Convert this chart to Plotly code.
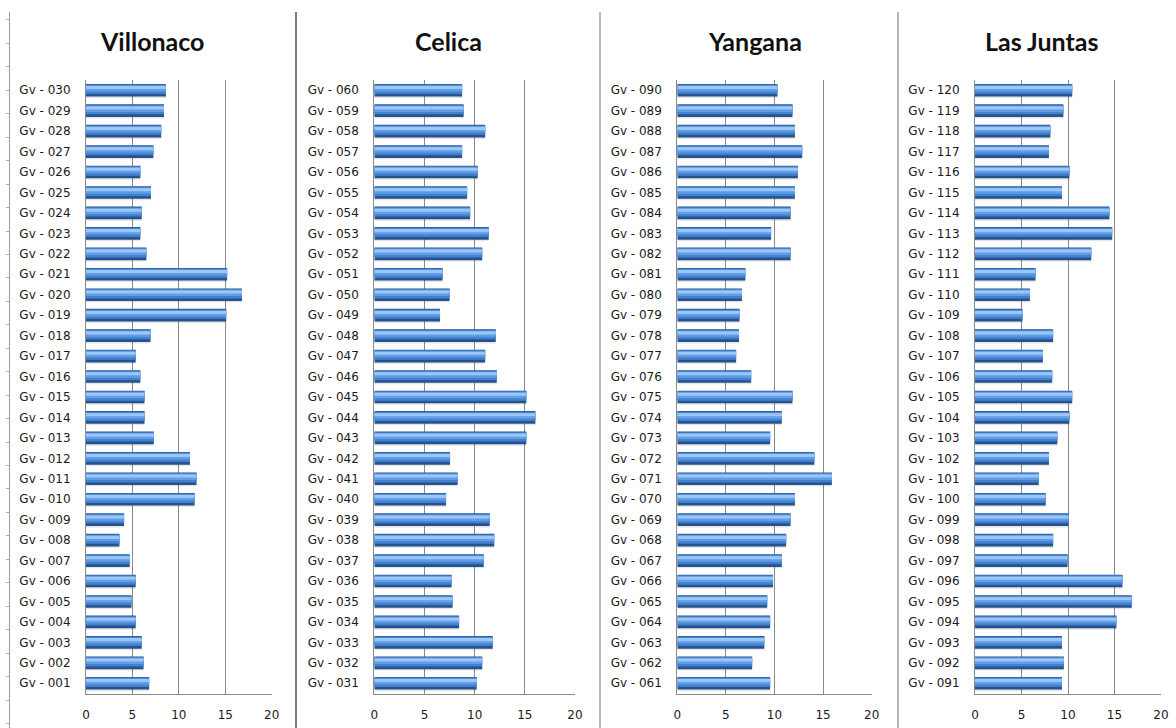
import plotly.graph_objects as go

# Station labels per site (bottom to top)
villonaco_labels = [f"Gv - {i:03d}" for i in range(1, 31)]
celica_labels = [f"Gv - {i:03d}" for i in range(31, 61)]
yangana_labels = [f"Gv - {i:03d}" for i in range(61, 91)]
juntas_labels = [f"Gv - {i:03d}" for i in range(91, 121)]

# Values per station (Gv-001 .. Gv-030)
villonaco_values = [6.8, 6.2, 6.0, 5.35, 4.9, 5.35, 4.7, 3.6, 4.1, 11.7,
                    11.9, 11.2, 7.3, 6.3, 6.3, 5.85, 5.35, 6.95, 15.1, 16.8,
                    15.2, 6.5, 5.85, 6.0, 7.0, 5.85, 7.25, 8.1, 8.4, 8.6]
# Gv-031 .. Gv-060
celica_values = [10.2, 10.75, 11.8, 8.45, 7.8, 7.7, 10.9, 11.95, 11.5, 7.15,
                 8.3, 7.55, 15.15, 16.05, 15.15, 12.2, 11.05, 12.1, 6.55, 7.5,
                 6.8, 10.75, 11.4, 9.55, 9.25, 10.3, 8.75, 11.05, 8.9, 8.75]
# Gv-061 .. Gv-090
yangana_values = [9.55, 7.7, 8.95, 9.55, 9.25, 9.85, 10.75, 11.2, 11.65, 12.1,
                  15.9, 14.1, 9.55, 10.75, 11.85, 7.6, 6.05, 6.35, 6.4, 6.65,
                  7.0, 11.65, 9.65, 11.65, 12.1, 12.4, 12.85, 12.1, 11.85, 10.3]
# Gv-091 .. Gv-120
juntas_values = [9.35, 9.55, 9.35, 15.2, 16.85, 15.85, 9.95, 8.4, 10.05, 7.6,
                 6.85, 7.95, 8.85, 10.15, 10.45, 8.3, 7.3, 8.4, 5.1, 5.9,
                 6.5, 12.5, 14.75, 14.45, 9.35, 10.15, 7.95, 8.1, 9.5, 10.45]

site_names = ["Villonaco", "Celica", "Yangana", "Las Juntas"]
site_labels = [villonaco_labels, celica_labels, yangana_labels, juntas_labels]
site_values = [villonaco_values, celica_values, yangana_values, juntas_values]
x_ticks = [0, 5, 10, 15, 20]

W, H = 1176, 728

# Panel geometry in pixels (plot-area left/right edge, title centre)
panel_x = [(86, 271.7), (374.3, 575), (677.3, 871.7), (975, 1161)]
title_cx = [152, 448, 755, 1041]
plot_top, plot_bottom = 80, 693.5
dividers = [296, 600, 898]

# Layered fills that give each bar a rounded, lit look
bar_layers = [
    dict(color="rgba(0,0,0,0.10)", offset=-0.38, width=0.12),  # soft shadow
    dict(color="#24538e", offset=-0.31, width=0.62),            # dark rim
    dict(color="#4380cf", offset=-0.18, width=0.46),            # body
    dict(color="#619de6", offset=-0.06, width=0.29),            # upper body
    dict(color="#9cc7f5", offset=0.06, width=0.15),             # highlight
]

font_txt = "DejaVu Sans"
txt_color = "#1a1a1a"
grid_color = "#8a8a8a"

fig = go.Figure()
layout = dict(
    template="none",
    width=W, height=H,
    margin=dict(l=0, r=0, t=0, b=0, autoexpand=False),
    paper_bgcolor="white", plot_bgcolor="white",
    barmode="overlay",
    showlegend=False,
    annotations=[], shapes=[],
)

for i, (name, labels, values) in enumerate(zip(site_names, site_labels, site_values)):
    n = i + 1
    xa = "x" if n == 1 else f"x{n}"
    ya = "y" if n == 1 else f"y{n}"
    for layer in bar_layers:
        fig.add_trace(go.Bar(
            x=values, y=labels, orientation="h",
            xaxis=xa, yaxis=ya,
            marker=dict(color=layer["color"], line=dict(width=0)),
            offset=layer["offset"], width=layer["width"],
            hoverinfo="skip",
        ))
    x0, x1 = panel_x[i]
    layout["xaxis" if n == 1 else f"xaxis{n}"] = dict(
        domain=[x0 / W, x1 / W], anchor=ya, automargin=False,
        range=[0, 20], tickvals=x_ticks, ticktext=[str(t) for t in x_ticks],
        showgrid=True, gridcolor=grid_color, gridwidth=1,
        showline=True, linecolor=grid_color, linewidth=1,
        zeroline=False, ticks="", ticklabelstandoff=10,
        tickfont=dict(family=font_txt, size=12, color=txt_color),
        fixedrange=True,
    )
    layout["yaxis" if n == 1 else f"yaxis{n}"] = dict(
        domain=[1 - plot_bottom / H, 1 - plot_top / H], anchor=xa, automargin=False,
        type="category", categoryorder="array", categoryarray=labels,
        range=[-0.5, 29.5],
        showgrid=False, showline=True, linecolor=grid_color, linewidth=1,
        zeroline=False, ticks="", ticklabelstandoff=12,
        tickfont=dict(family=font_txt, size=12, color=txt_color),
        fixedrange=True,
    )
    layout["annotations"].append(dict(
        text=f"<b>{name}</b>", x=title_cx[i] / W, y=1 - 41 / H,
        xref="paper", yref="paper", xanchor="center", yanchor="middle",
        showarrow=False, font=dict(family="Lato", size=25, color="#111111"),
    ))

# Outer frame axis with small ticks along the left edge
fig.add_trace(go.Scatter(x=[None], y=[None], xaxis="x5", yaxis="y5",
                         hoverinfo="skip", showlegend=False))
layout["xaxis5"] = dict(domain=[0, 0.005], anchor="y5", visible=False, range=[0, 1])
layout["yaxis5"] = dict(
    domain=[0, 716 / H], anchor="free", position=9 / W, automargin=False,
    range=[0, 716 / 23.45], tick0=28 / 23.45, dtick=1,
    showline=True, linecolor="#9a9a9a", linewidth=1,
    ticks="outside", ticklen=3, tickcolor="#b0b0b0",
    showticklabels=False, showgrid=False, zeroline=False, fixedrange=True,
)

# Separators between the site panels
for j, xd in enumerate(dividers):
    layout["shapes"].append(dict(
        type="line", xref="paper", yref="paper",
        x0=xd / W, x1=xd / W, y0=0, y1=1 - 12 / H,
        line=dict(color="#7a7a7a" if j == 0 else "#a0a0a0", width=2 if j == 0 else 1.5),
    ))

fig.update_layout(**layout)
fig.write_html("out.html")
